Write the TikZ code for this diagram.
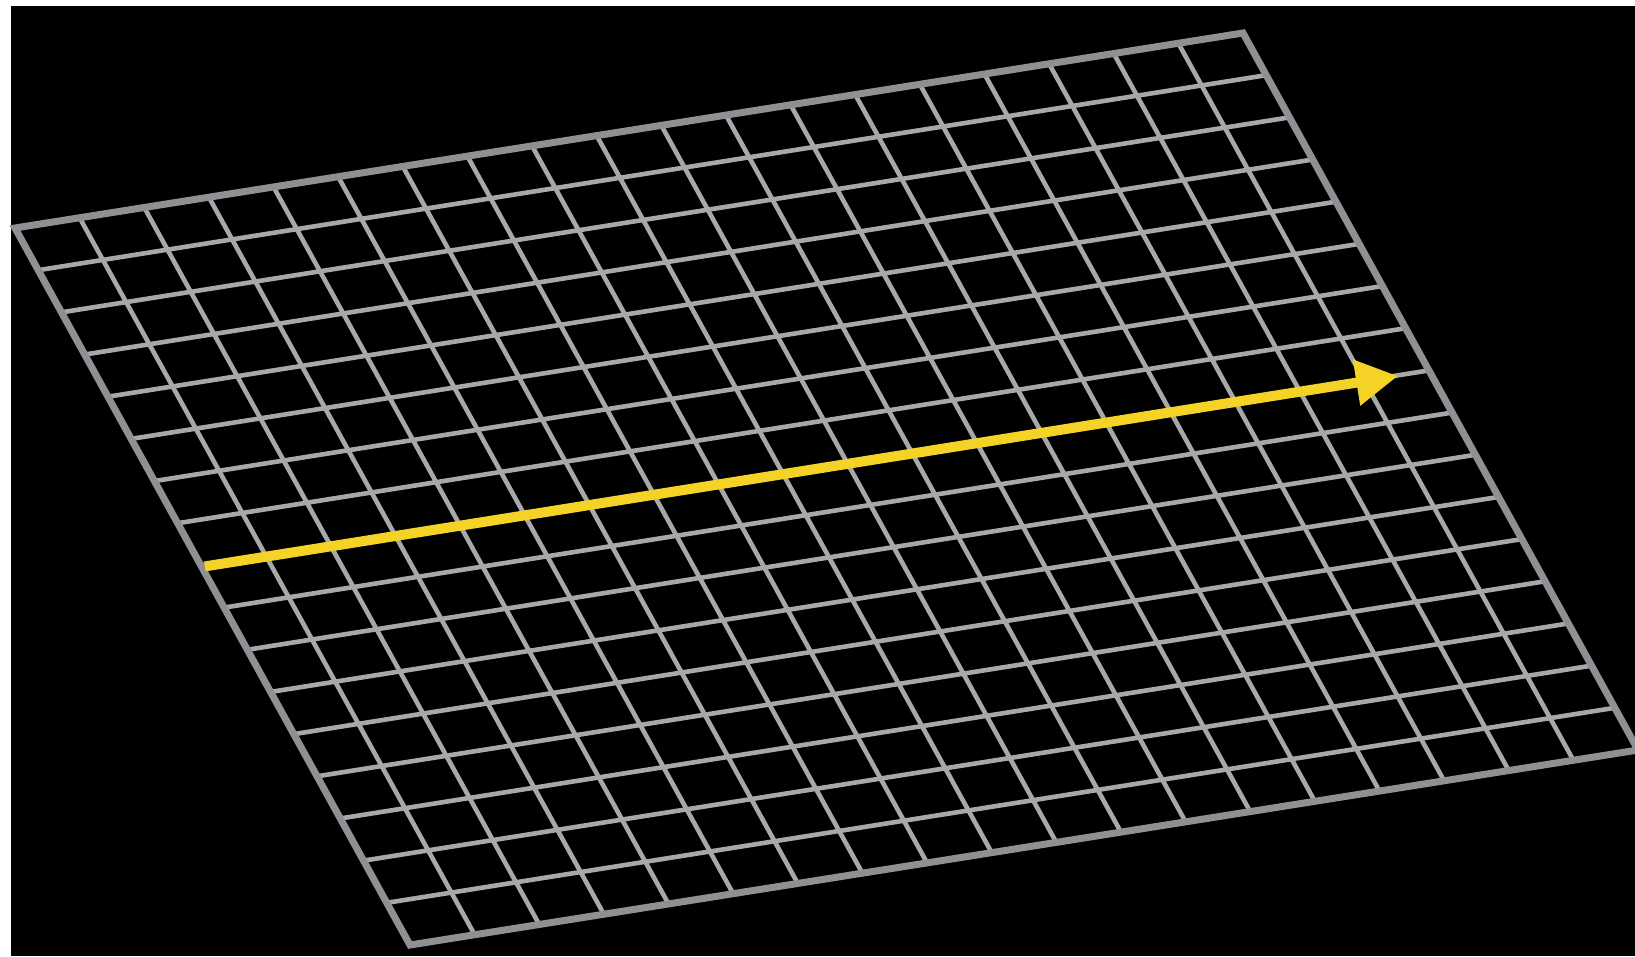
\documentclass[tikz,border=0pt]{standalone}
\usetikzlibrary{calc,arrows.meta}
\definecolor{gridgray}{HTML}{A6A8AA}
\definecolor{framegray}{HTML}{8E9093}
\definecolor{arrowyellow}{HTML}{F5D226}
\tikzset{
  gridline/.style={draw=gridgray, line width=4.6pt, line cap=butt},
  frameline/.style={draw=framegray, line width=7pt, line join=miter},
  bigarrow/.style={draw=arrowyellow, line width=10pt, -{Triangle[length=42pt,width=44pt]}, arrowyellow}
}
\begin{document}
\begin{tikzpicture}[x=1pt,y=-1pt]
\useasboundingbox (0,0) rectangle (1635,956);
\fill[white] (0,0) rectangle (1635,956);
\fill[black] (11,6) rectangle (1635,956);
\coordinate (TL) at (15,228);
\coordinate (TR) at (1243,33);
\coordinate (BL) at (410,945);
\coordinate (BR) at (1638,750);
\foreach \i in {1,...,18}{
  \draw[gridline] ($(TL)!\i/19!(TR)$) -- ($(BL)!\i/19!(BR)$);
}
\foreach \j in {1,...,16}{
  \draw[gridline] ($(TL)!\j/17!(BL)$) -- ($(TR)!\j/17!(BR)$);
}
\draw[frameline] (TL) -- (TR) -- (BR) -- (BL) -- cycle;
\coordinate (A) at ($(TL)!8/17!(BL)+(4,1)$);
\coordinate (B) at (1398,376);
\draw[bigarrow] (A) -- (B);
\end{tikzpicture}
\end{document}
